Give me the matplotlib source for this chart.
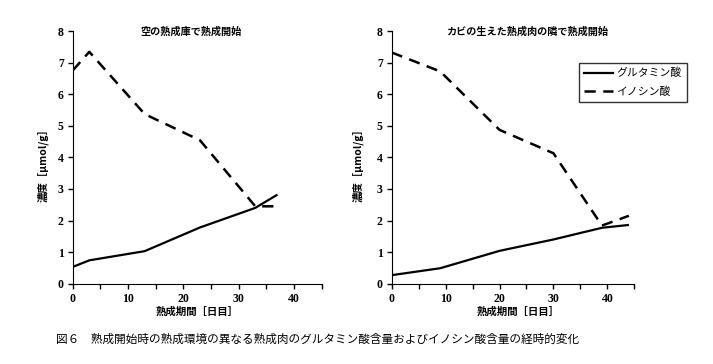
import matplotlib
matplotlib.use("Agg")
import matplotlib.pyplot as plt
from matplotlib.lines import Line2D

plt.rcParams['font.family'] = ['Noto Sans CJK JP', 'DejaVu Sans']

# 空の熟成庫で熟成開始
days_a = [0, 3, 13, 23, 33, 37]
glu_a = [0.53, 0.74, 1.03, 1.78, 2.40, 2.82]
ino_a = [6.75, 7.34, 5.37, 4.54, 2.45, 2.45]

# カビの生えた熟成肉の隣で熟成開始
days_b = [0, 9, 20, 30, 39, 44]
glu_b = [0.27, 0.49, 1.04, 1.40, 1.77, 1.86]
ino_b = [7.32, 6.72, 4.87, 4.13, 1.84, 2.15]

titles = ['空の熟成庫で熟成開始', 'カビの生えた熟成肉の隣で熟成開始']
series_names = ['グルタミン酸', 'イノシン酸']
xlabel = '熟成期間［日目］'
ylabel = '濃度［μmol/g］'
caption = '図６　熟成開始時の熟成環境の異なる熟成肉のグルタミン酸含量およびイノシン酸含量の経時的変化'

W, H = 713, 364
fig = plt.figure(figsize=(W / 100, H / 100), dpi=100)

dash = (0, (4.5, 3))

panels = [
    (days_a, glu_a, ino_a, 72.7, 249.0, 197, 43, 191),
    (days_b, glu_b, ino_b, 391.7, 242.6, 518, 358, 527),
]

for i, (d, g, n, x0, w, xl_x, yl_x, t_x) in enumerate(panels):
    ax = fig.add_axes([x0 / W, 1 - 283.7 / H, w / W, (283.7 - 31) / H])
    ax.plot(d, g, color='black', lw=1.6, solid_capstyle='butt')
    ax.plot(d, n, color='black', lw=1.8, linestyle=dash)
    ax.set_xlim(0, 45)
    ax.set_ylim(0, 8)
    ax.set_xticks(range(0, 46, 5))
    ax.set_xticklabels([str(v) if v % 10 == 0 else '' for v in range(0, 46, 5)])
    ax.set_yticks(range(0, 9))
    for lab in ax.get_xticklabels() + ax.get_yticklabels():
        lab.set_fontfamily('Liberation Serif')
        lab.set_fontsize(8.5)
        lab.set_fontweight('bold')
    ax.tick_params(direction='out', length=3.5, width=1, pad=3)
    ax.spines['top'].set_visible(False)
    ax.spines['right'].set_visible(False)
    ax.patch.set_alpha(0)
    fig.text(t_x / W, 1 - 32 / H, titles[i], ha='center', va='center',
             fontsize=7.3, fontweight='bold')
    fig.text(xl_x / W, 1 - 312 / H, xlabel, ha='center', va='center', fontsize=7.5, fontweight='bold')
    fig.text(yl_x / W, 1 - 163 / H, ylabel, ha='center', va='center', rotation=90,
             fontsize=7.5, fontweight='bold')

handles = [Line2D([], [], color='black', lw=1.6),
           Line2D([], [], color='black', lw=1.8, linestyle=dash)]
leg = fig.legend(handles, series_names, loc='upper left',
                 bbox_to_anchor=(579 / W, 1 - 63 / H), fontsize=7.8,
                 frameon=True, fancybox=False, edgecolor='black', borderpad=0.45,
                 handlelength=2.7, labelspacing=0.75, handletextpad=0.3,
                 borderaxespad=0)
leg.get_frame().set_linewidth(1.0)

fig.text(56 / W, 1 - 339 / H, caption, ha='left', va='center', fontsize=8.4)

fig.savefig('out.png', dpi=100)
